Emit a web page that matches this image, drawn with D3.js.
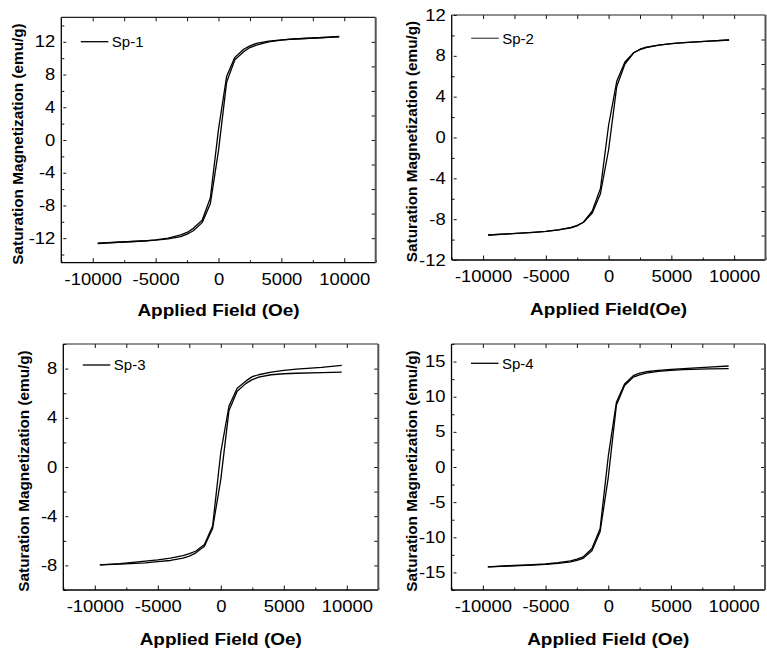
<!DOCTYPE html>
<html>
<head>
<meta charset="utf-8">
<script src="https://cdn.jsdelivr.net/npm/d3@7"></script>
<style>
  html, body { margin: 0; padding: 0; background: #fff; }
  svg { display: block; }
  text { font-family: Arial, "Liberation Sans", sans-serif; fill: #000; }
</style>
</head>
<body>
<svg id="chart" width="767" height="650"></svg>
<script>
// ---------- data ----------
const fieldOe = [-9600, -8000, -6000, -5000, -4000, -3000, -2500, -2000, -1300, -650, 0, 650, 1300, 2000, 2500, 3000, 4000, 5000, 6000, 8000, 9600];

// descending-field branch (upper branch) and ascending-field branch (lower branch), ordered by fieldOe
const sp1Desc = [-12.6, -12.5, -12.35, -12.2, -12.0, -11.6, -11.3, -10.8, -9.8, -7.1, 1.3, 7.8, 10.1, 11.1, 11.5, 11.8, 12.1, 12.25, 12.35, 12.5, 12.65];
const sp1Asc  = [-12.65, -12.5, -12.35, -12.25, -12.1, -11.8, -11.5, -11.1, -10.1, -7.8, -1.3, 7.1, 9.8, 10.8, 11.3, 11.6, 12.0, 12.2, 12.35, 12.5, 12.6];

const sp2Desc = [-9.55, -9.45, -9.3, -9.2, -9.05, -8.85, -8.65, -8.3, -7.2, -5.0, 1.2, 5.5, 7.4, 8.3, 8.6, 8.8, 9.05, 9.2, 9.3, 9.45, 9.55];
const sp2Asc  = [-9.55, -9.45, -9.3, -9.2, -9.05, -8.8, -8.6, -8.3, -7.4, -5.5, -1.2, 5.0, 7.2, 8.3, 8.65, 8.85, 9.05, 9.2, 9.3, 9.45, 9.55];

const sp3Desc = [-7.95, -7.85, -7.65, -7.55, -7.4, -7.2, -7.05, -6.85, -6.3, -4.8, 1.2, 4.95, 6.4, 7.0, 7.35, 7.5, 7.72, 7.85, 7.95, 8.1, 8.27];
const sp3Asc  = [-7.95, -7.9, -7.8, -7.7, -7.6, -7.4, -7.25, -7.0, -6.45, -5.0, -1.0, 4.6, 6.15, 6.8, 7.1, 7.3, 7.5, 7.58, 7.62, 7.68, 7.72];

const sp4Desc = [-14.2, -14.05, -13.9, -13.8, -13.6, -13.35, -13.1, -12.8, -11.6, -8.8, 1.5, 9.2, 11.8, 13.0, 13.35, 13.55, 13.75, 13.9, 14.0, 14.2, 14.37];
const sp4Asc  = [-14.2, -14.1, -13.95, -13.85, -13.7, -13.5, -13.3, -13.0, -11.9, -9.2, -1.5, 8.8, 11.6, 12.8, 13.1, 13.35, 13.6, 13.75, 13.85, 13.95, 14.0];

const seriesNames = ["Sp-1", "Sp-2", "Sp-3", "Sp-4"];
const xTickLabels = [-10000, -5000, 0, 5000, 10000];
const xDomain = [-12500, 12500];
const yDomains = [[-15, 15], [-12, 12], [-10, 10], [-17.5, 17.5]];
const yTickLabels = [
  [-12, -8, -4, 0, 4, 8, 12],
  [-12, -8, -4, 0, 4, 8, 12],
  [-8, -4, 0, 4, 8],
  [-15, -10, -5, 0, 5, 10, 15]
];
const yMinorSteps = [2, 2, 2, 2.5];
const yRightSteps = [3, 2.4, 2, 3.5];
const xTitles = ["Applied Field (Oe)", "Applied Field(Oe)", "Applied Field (Oe)", "Applied Field (Oe)"];
const yTitle = "Saturation Magnetization (emu/g)";

// ---------- layout ----------
const layout = [
  { left: 61.3, top: 17.3, right: 375.7, bottom: 262.7, yTitleX: 17.5, xTitleY: 316.5, legendY: 41.7, legendColor: "#000" },
  { left: 451.7, top: 15,   right: 765.5, bottom: 260,   yTitleX: 411.5, xTitleY: 315, legendY: 38.3, legendColor: "#555" },
  { left: 63.3, top: 344,   right: 378.3, bottom: 590,   yTitleX: 23.5, xTitleY: 645, legendY: 365, legendColor: "#000" },
  { left: 451.5, top: 344,  right: 765,   bottom: 590,   yTitleX: 411.5, xTitleY: 645, legendY: 363.3, legendColor: "#000" }
];
const branches = [[sp1Desc, sp1Asc], [sp2Desc, sp2Asc], [sp3Desc, sp3Asc], [sp4Desc, sp4Asc]];
const SX = 1.15; // horizontal stretch of the original figure's lettering

const svg = d3.select("#chart");
const fmt = d => String(d);

function rangeFrom(domain, step) {
  const out = [];
  const start = Math.ceil(domain[0] / step - 1e-9) * step;
  for (let v = start; v <= domain[1] + 1e-9; v += step) out.push(+v.toFixed(6));
  return out;
}

layout.forEach((L, i) => {
  const x = d3.scaleLinear().domain(xDomain).range([L.left, L.right]);
  const y = d3.scaleLinear().domain(yDomains[i]).range([L.bottom, L.top]);
  const g = svg.append("g");

  const xMinor = rangeFrom(xDomain, 2500).filter(v => !xTickLabels.includes(v));
  const yMinor = rangeFrom(yDomains[i], yMinorSteps[i]).filter(v => !yTickLabels[i].includes(v));

  // bottom axis
  g.append("g").attr("transform", `translate(0,${L.bottom})`)
    .call(d3.axisBottom(x).tickValues(xMinor).tickSizeInner(-2.5).tickSizeOuter(0).tickFormat(""))
    .call(a => a.select(".domain").remove());
  const bx = g.append("g").attr("transform", `translate(0,${L.bottom})`)
    .call(d3.axisBottom(x).tickValues(xTickLabels).tickSizeInner(-4.5).tickSizeOuter(0).tickPadding(10.5).tickFormat(fmt));
  bx.select(".domain").remove();
  bx.selectAll("text").attr("font-size", 16).attr("font-family", "Arial, 'Liberation Sans', sans-serif")
    .attr("transform", `scale(${SX},1)`);

  // left axis
  g.append("g").attr("transform", `translate(${L.left},0)`)
    .call(d3.axisLeft(y).tickValues(yMinor).tickSizeInner(-3).tickSizeOuter(0).tickFormat(""))
    .call(a => a.select(".domain").remove());
  const ly = g.append("g").attr("transform", `translate(${L.left},0)`)
    .call(d3.axisLeft(y).tickValues(yTickLabels[i]).tickSizeInner(-5).tickSizeOuter(0).tickPadding(6).tickFormat(fmt));
  ly.select(".domain").remove();
  ly.selectAll("text").attr("font-size", 16).attr("font-family", "Arial, 'Liberation Sans', sans-serif")
    .attr("x", -6 / SX).attr("transform", `scale(${SX},1)`);
  ly.selectAll(".tick line").attr("x1", 2);

  // top axis
  g.append("g").attr("transform", `translate(0,${L.top})`)
    .call(d3.axisTop(x).tickValues(rangeFrom(xDomain, 2500).filter(v => v > xDomain[0] && v < xDomain[1])).tickSizeInner(-4).tickSizeOuter(0).tickFormat(""))
    .call(a => a.select(".domain").remove());

  // right axis
  g.append("g").attr("transform", `translate(${L.right},0)`)
    .call(d3.axisRight(y).tickValues(rangeFrom(yDomains[i], yRightSteps[i]).filter(v => v > yDomains[i][0] && v < yDomains[i][1])).tickSizeInner(-4).tickSizeOuter(0).tickFormat(""))
    .call(a => a.select(".domain").remove());

  g.selectAll(".tick line").attr("stroke", "#111").attr("stroke-width", 1);

  // frame
  g.append("line").attr("x1", L.left).attr("x2", L.right).attr("y1", L.bottom).attr("y2", L.bottom).attr("stroke", "#000").attr("stroke-width", 1.3);
  g.append("line").attr("x1", L.left).attr("x2", L.left).attr("y1", L.top).attr("y2", L.bottom).attr("stroke", "#000").attr("stroke-width", 1.3);
  g.append("line").attr("x1", L.left).attr("x2", L.right).attr("y1", L.top).attr("y2", L.top).attr("stroke", "#222").attr("stroke-width", 1.2);
  g.append("line").attr("x1", L.right).attr("x2", L.right).attr("y1", L.top).attr("y2", L.bottom).attr("stroke", "#555").attr("stroke-width", 2);

  // curves
  const line = d3.line().x(d => x(d[0])).y(d => y(d[1]));
  branches[i].forEach(vals => {
    g.append("path")
      .datum(fieldOe.map((h, k) => [h, vals[k]]))
      .attr("d", line)
      .attr("fill", "none")
      .attr("stroke", "#000")
      .attr("stroke-width", 1.3)
      .attr("stroke-linejoin", "round");
  });

  // legend
  const lx = L.left + 19.5;
  g.append("line").attr("x1", lx).attr("x2", lx + 27.5).attr("y1", L.legendY).attr("y2", L.legendY)
    .attr("stroke", L.legendColor).attr("stroke-width", 1.3);
  g.append("text").attr("x", lx + 31).attr("y", L.legendY).attr("dy", "0.36em")
    .attr("font-size", 15).text(seriesNames[i]);

  // titles
  const cx = (L.left + L.right) / 2;
  g.append("text").attr("x", cx / SX).attr("y", L.xTitleY)
    .attr("transform", `scale(${SX},1)`)
    .attr("text-anchor", "middle").attr("font-size", 16.5).attr("font-weight", "bold").text(xTitles[i]);
  g.append("text")
    .attr("transform", `translate(${L.yTitleX + 5},${(L.top + L.bottom) / 2 + 4}) rotate(-90)`)
    .attr("text-anchor", "middle").attr("font-size", 15.3).attr("font-weight", "bold").text(yTitle);
});
</script>
</body>
</html>
